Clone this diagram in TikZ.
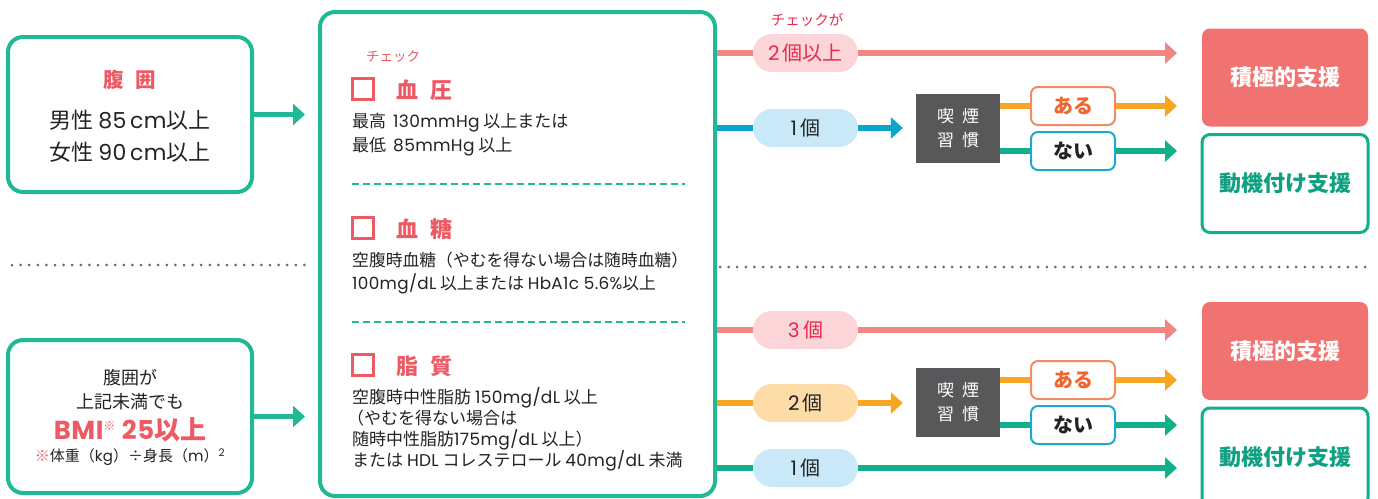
\documentclass[tikz,border=0pt]{standalone}
\usepackage{fontspec}
\setmainfont{Noto Sans CJK JP}
\newfontfamily\latn{Poppins}[LetterSpace=2]
\newcommand\lt[1]{{\latn #1}}
\usetikzlibrary{arrows.meta}
\definecolor{tealb}{RGB}{33,185,149}
\definecolor{hred}{RGB}{238,90,100}
\definecolor{crim}{RGB}{232,40,78}
\definecolor{pinkl}{RGB}{242,134,128}
\definecolor{pinkp}{RGB}{251,213,215}
\definecolor{bluel}{RGB}{10,166,202}
\definecolor{bluep}{RGB}{201,233,248}
\definecolor{orl}{RGB}{246,166,35}
\definecolor{orp}{RGB}{253,220,168}
\definecolor{grl}{RGB}{16,176,140}
\definecolor{dgray}{RGB}{88,88,90}
\definecolor{arub}{RGB}{240,140,100}
\definecolor{arut}{RGB}{242,100,45}
\definecolor{naib}{RGB}{30,168,208}
\definecolor{sekf}{RGB}{241,115,113}
\definecolor{dokt}{RGB}{15,160,130}
\definecolor{txt}{RGB}{35,35,35}
\definecolor{dotc}{RGB}{105,105,105}
\begin{document}
\begin{tikzpicture}[x=1pt,y=-1pt,
  every node/.style={inner sep=0pt, text=txt},
  bigbox/.style={draw=tealb, line width=4pt, rounded corners=15pt, fill=white},
  arr/.style={line width=5.5pt, -{Triangle[length=12pt,width=21pt]}},
  seg/.style={line width=5.5pt},
  pill/.style={rounded corners=19pt, minimum width=105pt, minimum height=38pt, font=\fontsize{20}{24}\selectfont},
  smoke/.style={fill=dgray, minimum width=84pt, minimum height=69pt, text=white, align=center, font=\fontsize{17}{24}\selectfont},
  yn/.style={draw, line width=2pt, rounded corners=7pt, minimum width=84pt, minimum height=38pt, fill=white, font=\bfseries\fontsize{20}{24}\selectfont},
  res/.style={rounded corners=8pt, minimum width=166pt, minimum height=98pt, font=\bfseries\fontsize{22}{26}\selectfont},
  chkbox/.style={draw=hred, line width=2.5pt, minimum size=21pt},
  ttl/.style={text=hred, font=\bfseries\fontsize{22}{26}\selectfont, anchor=west},
  body/.style={anchor=west, align=left, font=\fontsize{17}{24}\selectfont},
  sepline/.style={draw=tealb, line width=1.5pt, dash pattern=on 7pt off 4pt},
  dotline/.style={draw=dotc, line width=3pt, line cap=round, dash pattern=on 0pt off 8.6pt}
]
\useasboundingbox (0,0) rectangle (1378,498);

% left boxes
\node[bigbox, minimum width=244pt, minimum height=155pt] (ltop) at (130,114.5) {};
\node[text=hred, font=\bfseries\fontsize{20.5}{22}\selectfont] (ltitle) at (130,80) {腹\hspace{12pt}囲};
\node[align=center, font=\fontsize{22}{32}\selectfont] (ltext) at (130,136) {男性 \lt{85\,cm}以上\\女性 \lt{90\,cm}以上};

\node[bigbox, minimum width=244pt, minimum height=153pt] (lbot) at (130,416.5) {};
\node[align=center, font=\fontsize{18}{24}\selectfont] (lb1) at (130,390) {腹囲が\\上記未満でも};
\node[text=hred, font=\bfseries\fontsize{26}{30}\selectfont] (lb2) at (130,430) {\lt{BMI}\textsuperscript{\fontsize{12}{12}\selectfont ※} \lt{25}以上};
\node[font=\fontsize{15}{18}\selectfont] (lb3) at (130,457) {\textcolor{hred}{※}体重（\lt{kg}）÷身長（\lt{m}）\textsuperscript{\lt{2}}};

\draw[dotline] (12,265) -- (305,265);
\draw[dotline] (720,267) -- (1370,267);

% middle box
\node[bigbox, minimum width=395pt, minimum height=484pt] (mid) at (517.5,254) {};
\draw[arr, draw=tealb, shorten >=13pt] (ltop.east) -- (mid.west |- ltop.east);
\draw[arr, draw=tealb, shorten >=13pt] (lbot.east) -- (mid.west |- lbot.east);

\node[text=hred, font=\fontsize{13.5}{15}\selectfont] (chklbl) at (393,57) {チェック};
\node[chkbox] (sq1) at (363,89) {};
\node[ttl] (t1) at (396,90) {血\hspace{12pt}圧};
\node[body] (b1) at (352,135) {最高\hspace{7pt}\lt{130mmHg} 以上または\\最低\hspace{7pt}\lt{85mmHg} 以上};
\draw[sepline] (352,184) -- (685,184);
\node[chkbox] (sq2) at (363,228) {};
\node[ttl] (t2) at (396,229) {血\hspace{12pt}糖};
\node[body, font=\fontsize{16.8}{23}\selectfont] (b2) at (352,273.5) {空腹時血糖（やむを得ない場合は随時血糖）\\\lt{100mg/dL} 以上または \lt{HbA1c 5.6\%}以上};
\draw[sepline] (352,322) -- (685,322);
\node[chkbox] (sq3) at (363,365) {};
\node[ttl] (t3) at (396,366) {脂\hspace{12pt}質};
\node[body, font=\fontsize{17}{21}\selectfont] (b3) at (352,429) {空腹時中性脂肪 \lt{150mg/dL} 以上\\\hspace{-5pt}（やむを得ない場合は\\随時中性脂肪\lt{175mg/dL} 以上）\\または \lt{HDL} コレステロール \lt{40mg/dL} 未満};

% upper right
\node[text=crim, font=\fontsize{14.5}{16}\selectfont] (cklbl2) at (807,20) {チェックが};
\node[pill, fill=pinkp, text=crim] (p2) at (805.5,53) {\lt{2}\,個以上};
\coordinate (e1) at (1177,53);
\draw[seg, draw=pinkl] (mid.east |- p2) -- (p2.west);
\draw[arr, draw=pinkl] (p2.east) -- (e1);

\node[pill, fill=bluep] (p1) at (805.5,128) {\lt{1}\,個};
\node[smoke] (s1) at (958,128.5) {喫\hspace{8pt}煙\\習\hspace{8pt}慣};
\draw[seg, draw=bluel] (mid.east |- p1) -- (p1.west);
\draw[arr, draw=bluel, shorten >=13pt] (p1.east) -- (s1.west |- p1.east);

\node[yn, draw=arub, text=arut] (a1) at (1073,106) {ある};
\node[yn, draw=naib] (n1) at (1073,151) {ない};
\coordinate (ea1) at (1177,106);
\coordinate (en1) at (1177,151);
\draw[seg, draw=orl] (s1.east |- a1) -- (a1.west);
\draw[arr, draw=orl] (a1.east) -- (ea1);
\draw[seg, draw=grl] (s1.east |- n1) -- (n1.west);
\draw[arr, draw=grl] (n1.east) -- (en1);

\node[res, fill=sekf, text=white] (r1) at (1285,77.5) {積極的支援};
\node[res, draw=grl, line width=3pt, fill=white, text=dokt] (r2) at (1285,183.5) {動機付け支援};

% lower right
\node[pill, fill=pinkp, text=crim] (p3) at (805.5,330) {\lt{3}\,個};
\coordinate (e3) at (1177,330);
\draw[seg, draw=pinkl] (mid.east |- p3) -- (p3.west);
\draw[arr, draw=pinkl] (p3.east) -- (e3);

\node[pill, fill=orp] (p22) at (805.5,403) {\lt{2}\,個};
\node[smoke] (s2) at (958,402.5) {喫\hspace{8pt}煙\\習\hspace{8pt}慣};
\draw[seg, draw=orl] (mid.east |- p22) -- (p22.west);
\draw[arr, draw=orl, shorten >=13pt] (p22.east) -- (s2.west |- p22.east);

\node[yn, draw=arub, text=arut] (a2) at (1073,380) {ある};
\node[yn, draw=naib] (n2) at (1073,425) {ない};
\coordinate (ea2) at (1177,380);
\coordinate (en2) at (1177,425);
\draw[seg, draw=orl] (s2.east |- a2) -- (a2.west);
\draw[arr, draw=orl] (a2.east) -- (ea2);
\draw[seg, draw=grl] (s2.east |- n2) -- (n2.west);
\draw[arr, draw=grl] (n2.east) -- (en2);

\node[pill, fill=bluep] (p11) at (805.5,468) {\lt{1}\,個};
\coordinate (e11) at (1177,468);
\draw[seg, draw=grl] (mid.east |- p11) -- (p11.west);
\draw[arr, draw=grl] (p11.east) -- (e11);

\node[res, fill=sekf, text=white] (r3) at (1285,351) {積極的支援};
\node[res, draw=grl, line width=3pt, fill=white, text=dokt] (r4) at (1285,457) {動機付け支援};
\end{tikzpicture}
\end{document}
